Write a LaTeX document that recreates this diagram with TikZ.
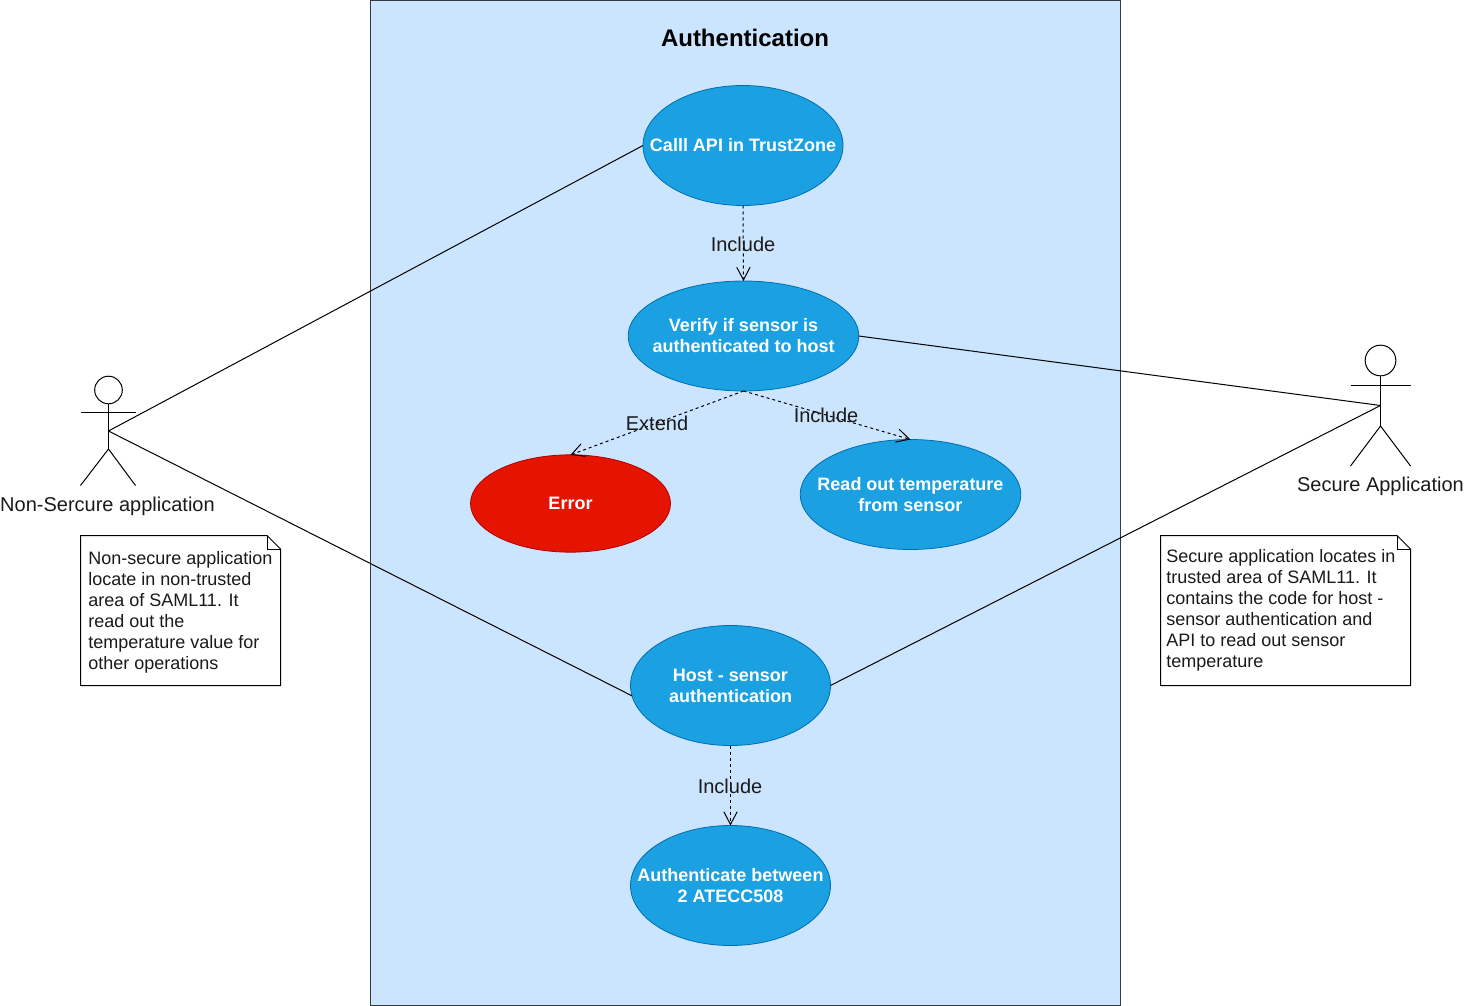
\documentclass[tikz,border=0pt]{standalone}
\usepackage{fontspec}
\setmainfont{Liberation Sans}
\usetikzlibrary{shapes.geometric,arrows.meta}
\definecolor{panelfill}{HTML}{CCE5FF}
\definecolor{panelline}{HTML}{36393D}
\definecolor{bluefill}{HTML}{1BA1E2}
\definecolor{blueline}{HTML}{006EAF}
\definecolor{redfill}{HTML}{E51400}
\definecolor{redline}{HTML}{B20000}
\definecolor{labelink}{HTML}{1A1A1A}
\tikzset{
  usecase/.style={ellipse,draw=blueline,fill=bluefill,inner sep=0pt,outer sep=0pt,line width=0.6pt},
  errorcase/.style={usecase,draw=redline,fill=redfill},
  casetext/.style={text=white,inner sep=0pt,align=center,font=\fontsize{13.5}{15.75}\selectfont\bfseries},
  assoc/.style={draw=black,line width=0.75pt},
  depend/.style={draw=black,line width=0.75pt,dash pattern=on 2.25pt off 2.25pt,
    -{Straight Barb[length=9.5pt,width=10pt,line width=0.75pt]}},
  deplabel/.style={text=labelink,inner sep=0pt,font=\fontsize{15}{18}\selectfont},
  actorlabel/.style={text=labelink,inner sep=0pt,font=\fontsize{15}{18}\selectfont},
  notetext/.style={text=labelink,inner sep=0pt,align=left,anchor=north west,font=\fontsize{13.5}{15.75}\selectfont},
  limb/.style={draw=black,line width=0.75pt},
  head/.style={circle,draw=black,line width=0.75pt,inner sep=0pt,outer sep=0pt},
  notebox/.style={draw=black,fill=white,line width=0.75pt}
}
\begin{document}
\begin{tikzpicture}[x=0.75pt,y=-0.75pt]
\useasboundingbox (0,0) rectangle (1464,1006);
\draw[draw=panelline,fill=panelfill,line width=0.75pt] (370.5,0.5) rectangle (1120.5,1005.5);
\node[inner sep=0pt,font=\fontsize{18}{21}\selectfont\bfseries] (title) at (745,38) {Authentication};

% use cases
\node[usecase,minimum width=150pt,minimum height=90pt] (call) at (743,145.5) {};
\node[casetext] (calltext) at (call.center) {Calll API in TrustZone};
\node[usecase,minimum width=173pt,minimum height=82.5pt] (verify) at (743.5,336) {};
\node[casetext] (verifytext) at (verify.center) {Verify if sensor is\\authenticated to host};
\node[errorcase,minimum width=150pt,minimum height=73pt] (error) at (570.5,503.5) {};
\node[casetext] (errortext) at (error.center) {Error};
\node[usecase,minimum width=165.5pt,minimum height=82.5pt] (read) at (910.5,494.5) {};
\node[casetext] (readtext) at (read.center) {Read out temperature\\from sensor};
\node[usecase,minimum width=150pt,minimum height=90pt] (host) at (730.5,685.5) {};
\node[casetext] (hosttext) at (host.center) {Host - sensor\\authentication};
\node[usecase,minimum width=150pt,minimum height=90pt] (authn) at (730.5,885.5) {};
\node[casetext] (authntext) at (authn.center) {Authenticate between\\2 ATECC508};

% left actor
\node[head,minimum size=20.7pt] (lhead) at (108.5,390) {};
\coordinate (larml) at (80.5,412);
\coordinate (larmr) at (135.5,412);
\coordinate (lhip) at (108.5,449);
\coordinate (lfootl) at (80.5,485.5);
\coordinate (lfootr) at (135.5,485.5);
\coordinate (lcentre) at (108.5,431);
\draw[limb] (lhead.south) -- (lhip);
\draw[limb] (larml) -- (larmr);
\draw[limb] (lfootl) -- (lhip) -- (lfootr);
\node[actorlabel] (llabel) at (107.5,506.5) {Non-Sercure application};

% right actor
\node[head,minimum size=23pt] (rhead) at (1380.5,360.5) {};
\coordinate (rarml) at (1350.5,385.5);
\coordinate (rarmr) at (1410.5,385.5);
\coordinate (rhip) at (1380.5,426);
\coordinate (rfootl) at (1350.5,466);
\coordinate (rfootr) at (1410.5,466);
\coordinate (rcentre) at (1380.5,405.5);
\draw[limb] (rhead.south) -- (rhip);
\draw[limb] (rarml) -- (rarmr);
\draw[limb] (rfootl) -- (rhip) -- (rfootr);
\node[actorlabel] (rlabel) at (1380.5,486.5) {Secure Application};

% associations
\draw[assoc] (lcentre) -- (call.west);
\draw[assoc] (lcentre) -- (host.186);
\draw[assoc] (verify.east) -- (rcentre);
\draw[assoc] (host.east) -- (rcentre);

% dependencies
\draw[depend] (call.south) -- (verify.north);
\draw[depend] (verify.south) -- (error.north);
\draw[depend] (verify.south) -- (read.north);
\draw[depend] (host.south) -- (authn.north);
\node[deplabel] (inc1) at (743,244.5) {Include};
\node[deplabel] (ext1) at (657,423.5) {Extend};
\node[deplabel] (inc2) at (826,415.5) {Include};
\node[deplabel] (inc3) at (730,786.5) {Include};

% notes
\coordinate (nla) at (80.5,535.5);
\coordinate (nlb) at (267,535.5);
\coordinate (nlc) at (280.5,549);
\coordinate (nld) at (280.5,685.5);
\coordinate (nle) at (80.5,685.5);
\draw[notebox] (nla) -- (nlb) -- (nlc) -- (nld) -- (nle) -- cycle;
\draw[limb] (nlb) -- (267,549) -- (nlc);
\node[notetext] (nltext) at (88,551) {Non-secure application\\locate in non-trusted\\area of SAML11. It\\read out the\\temperature value for\\other operations};

\coordinate (nra) at (1160.5,535.5);
\coordinate (nrb) at (1397,535.5);
\coordinate (nrc) at (1410.5,549);
\coordinate (nrd) at (1410.5,685.5);
\coordinate (nre) at (1160.5,685.5);
\draw[notebox] (nra) -- (nrb) -- (nrc) -- (nrd) -- (nre) -- cycle;
\draw[limb] (nrb) -- (1397,549) -- (nrc);
\node[notetext] (nrtext) at (1166,549) {Secure application locates in\\trusted area of SAML11. It\\contains the code for host -\\sensor authentication and\\API to read out sensor\\temperature};
\end{tikzpicture}
\end{document}
